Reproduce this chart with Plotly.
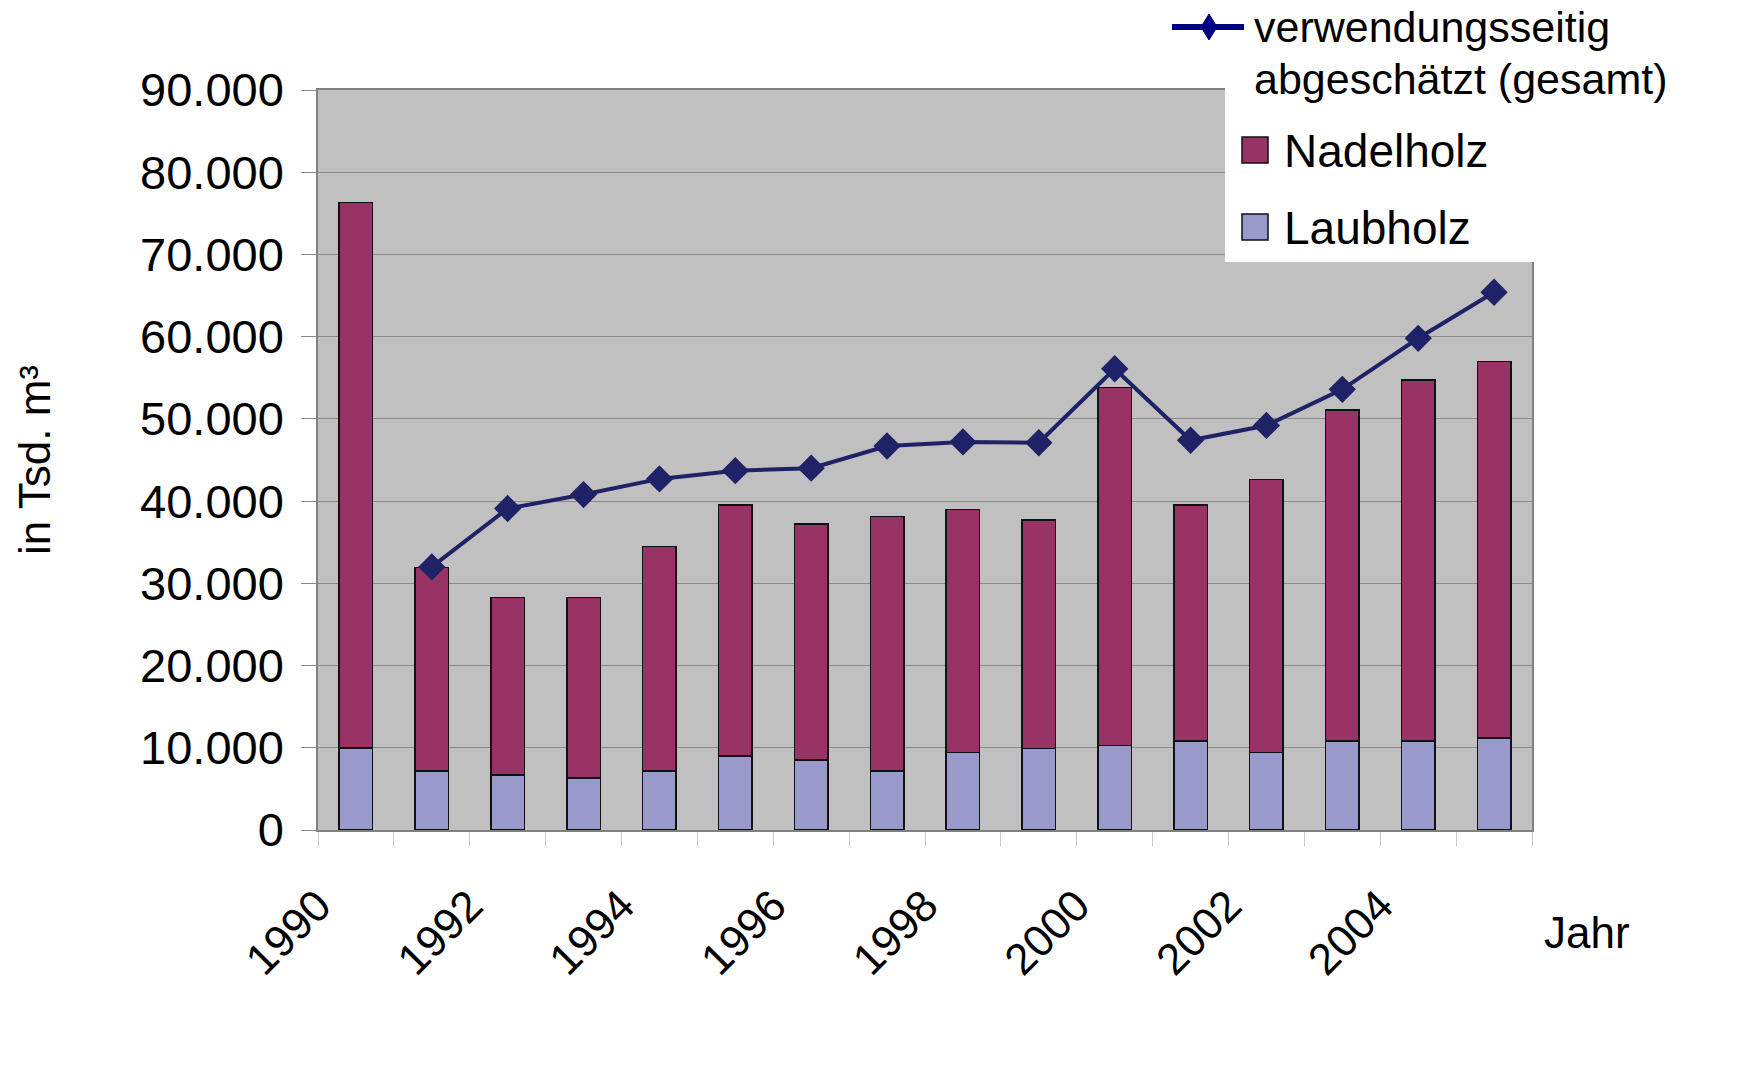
"""Holzverwendung in Deutschland 1990-2005: Laub-/Nadelholz gestapelt, Gesamtschätzung als Linie."""

import plotly.graph_objects as go

FONT = "Arial, 'Liberation Sans', sans-serif"
NADEL = "#993366"
LAUB = "#9999CC"
NAVY = "#1F2266"

years = list(range(1990, 2006))
laubholz = [10000, 7200, 6700, 6300, 7200, 9000, 8500, 7200,
            9400, 9900, 10300, 10800, 9400, 10800, 10800, 11200]
nadelholz = [66300, 24700, 21600, 22000, 27300, 30500, 28700, 30900,
             29600, 27800, 43500, 28700, 33200, 40300, 43900, 45800]
gesamt = [None, 32000, 39100, 40800, 42700, 43700, 44000, 46700,
          47200, 47100, 56100, 47400, 49200, 53600, 59800, 65400]
tick_years = list(range(1990, 2007))
tick_text = [str(y) if y % 2 == 0 and y < 2006 else "" for y in tick_years]

W, H = 1760, 1068
# plot area in window pixels
L, R, T, B = 318, 1532, 90, 830


def px(x):
    return (x - L) / (R - L)


def py(y):
    return (B - y) / (B - T)


def note(x, y, text, size, yanchor="middle", **kw):
    return dict(x=px(x), y=py(y), xref="paper", yref="paper", showarrow=False,
                text=text, font=dict(size=size, family=FONT, color="black"),
                yanchor=yanchor, **kw)


fig = go.Figure()
fig.add_trace(go.Bar(
    x=years, y=laubholz, name="Laubholz", width=0.44,
    marker=dict(color=LAUB, line=dict(color="#111", width=1.5)),
))
fig.add_trace(go.Bar(
    x=years, y=nadelholz, name="Nadelholz", width=0.44,
    marker=dict(color=NADEL, line=dict(color="#111", width=1.5)),
))
fig.add_trace(go.Scatter(
    x=years, y=gesamt, name="verwendungsseitig abgeschätzt (gesamt)",
    mode="lines+markers",
    line=dict(color=NAVY, width=4),
    marker=dict(symbol="diamond", size=21, color=NAVY),
))

# legend drawn by hand to get Excel-sized keys
mx, my = 1209, 27
diamond = (f"M {px(mx - 8)},{py(my)} L {px(mx)},{py(my - 13)} "
           f"L {px(mx + 8)},{py(my)} L {px(mx)},{py(my + 13)} Z")
shapes = [
    dict(type="rect", xref="paper", yref="paper", layer="above",
         x0=px(1225), x1=px(1534), y0=py(262), y1=py(52),
         fillcolor="white", line=dict(width=0)),
    dict(type="line", xref="paper", yref="paper", layer="above",
         x0=px(1172), x1=px(1244), y0=py(my), y1=py(my),
         line=dict(color="#000080", width=6)),
    dict(type="path", xref="paper", yref="paper", layer="above", path=diamond,
         fillcolor="#000080", line=dict(color="#000080", width=1)),
    dict(type="rect", xref="paper", yref="paper", layer="above",
         x0=px(1242), x1=px(1268), y0=py(163), y1=py(137),
         fillcolor=NADEL, line=dict(color="#111", width=1.5)),
    dict(type="rect", xref="paper", yref="paper", layer="above",
         x0=px(1242), x1=px(1268), y0=py(240), y1=py(214),
         fillcolor=LAUB, line=dict(color="#111", width=1.5)),
]

annotations = [
    note(1252, 1, "verwendungsseitig", 43, yanchor="top", xanchor="left"),
    note(1252, 79, "abgeschätzt (gesamt)", 43, xanchor="left"),
    note(1282, 151, "Nadelholz", 46, xanchor="left"),
    note(1282, 228, "Laubholz", 46, xanchor="left"),
    note(1587, 932, "Jahr", 44, xanchor="center"),
]

fig.update_layout(
    width=W, height=H,
    barmode="stack",
    showlegend=False,
    separators=",.",
    paper_bgcolor="white",
    plot_bgcolor="#C0C0C0",
    font=dict(family=FONT, color="black", size=46),
    margin=dict(l=L, r=W - R, t=T, b=H - B, autoexpand=False),
    shapes=shapes,
    annotations=annotations,
)
fig.update_xaxes(
    range=[1989.5, 2005.5],
    tickmode="array",
    tickvals=[y - 0.5 for y in tick_years],
    ticktext=tick_text,
    tickangle=-45,
    ticks="outside", ticklen=14, tickcolor="#C8C8C8", tickwidth=1,
    ticklabelstandoff=16,
    tickfont=dict(size=44),
    showgrid=False,
    showline=True, linecolor="#808080", linewidth=2, mirror=True,
    automargin=False,
)
fig.update_yaxes(
    range=[0, 90000],
    dtick=10000,
    tickformat=",d",
    ticks="outside", ticklen=15, tickcolor="#8A8A8A", tickwidth=1,
    ticklabelstandoff=8,
    tickfont=dict(size=47),
    gridcolor="#8A8A8A", gridwidth=1,
    zeroline=False,
    showline=True, linecolor="#808080", linewidth=1.5, mirror=True,
    title=dict(text="in Tsd. m³", font=dict(size=44), standoff=76),
    automargin=False,
)

# drop the default 8px body margin so the figure fills the window exactly
fig.write_html(
    "out.html",
    config={"displayModeBar": False},
    post_script="document.body.style.margin = '0';",
)
